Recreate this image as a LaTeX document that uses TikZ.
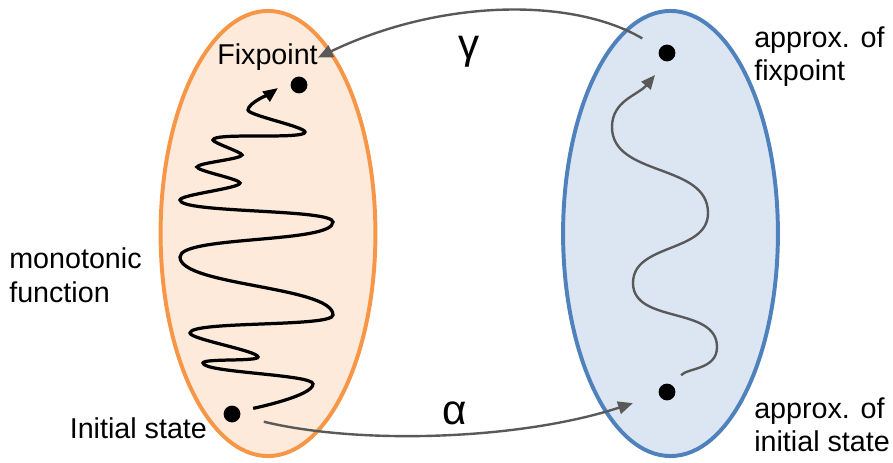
\documentclass[tikz,border=0pt]{standalone}
\usepackage{fontspec}
\setmainfont{Liberation Sans}
\usetikzlibrary{arrows.meta, positioning, shapes.geometric}
\definecolor{setorange}{RGB}{247,150,70}
\definecolor{lightorange}{RGB}{253,234,218}
\definecolor{setblue}{RGB}{79,129,189}
\definecolor{lightblue}{RGB}{220,230,242}
\definecolor{linkgray}{RGB}{89,89,89}

\begin{document}
\begin{tikzpicture}[
  x=0.025cm, y=0.025cm,
  setshape/.style={ellipse, line width=2.8pt, minimum width=5.37cm,
                   minimum height=11.125cm, inner sep=0pt},
  spot/.style={circle, fill=black, inner sep=0pt, minimum size=0.42cm},
  lbl/.style={inner sep=0pt, font=\fontsize{20.4}{23.8}\selectfont},
  greek/.style={inner sep=0pt, font=\fontsize{30}{36}\selectfont},
  zig/.style={out=90, in=-90, looseness=0.22},
  wiggle/.style={line width=2.3pt, -{Triangle[length=10.5pt, width=8.5pt]}},
  drift/.style={line width=1.7pt, color=linkgray, -{Triangle[length=10pt, width=8.5pt]}},
  link/.style={line width=1.7pt, color=linkgray, -{Triangle[length=10.5pt, width=9pt]}},
]
  \useasboundingbox (0,0) rectangle (893,462);

  % the two sets
  \node[setshape, draw=setorange, fill=lightorange] (concrete) at (268,228.5) {};
  \node[setshape, draw=setblue, fill=lightblue] (abstract) at (670.5,228.5) {};

  % points
  \node[spot] (fixL) at (299,377) {};
  \node[spot] (initL) at (232,48) {};
  \node[spot] (fixR) at (667,409) {};
  \node[spot] (initR) at (667,70) {};
  \coordinate (fixtipL) at (278,374);
  \coordinate (fixtipR) at (655,387);

  % labels
  \node[lbl, anchor=base west] (fixlabel) at (217,397) {Fixpoint};
  \node[lbl, anchor=base west] (initlabel) at (69.5,24) {Initial state};
  \node[lbl, anchor=north west, align=left] (monolabel) at (9,214.5) {monotonic\\function};
  \node[lbl, anchor=north west, align=left] (fixapprox) at (754,436) {approx. of\\fixpoint};
  \node[lbl, anchor=north west, align=left] (initapprox) at (754,65) {approx. of\\initial state};
  \node[greek] (gamma) at (469,410) {γ};
  \node[greek] (alpha) at (455,48.5) {α};

  % iteration of the monotonic function
  \draw[wiggle, shorten <=0.33cm] (initL) to[out=15, in=-90, looseness=0.4] (313,78)
    to[zig] (203,99) to[zig] (258,105) to[zig] (190,129) to[zig] (333,147)
    to[zig, looseness=0.45] (180,205) to[zig, looseness=0.35] (333,240) to[zig] (180,262) to[zig] (240,279)
    to[zig] (197,295) to[zig] (242,307) to[zig] (213,322) to[zig] (305,330)
    to[zig] (248,352) to[out=90, in=-144, looseness=0.5] (fixtipL);

  % abstract iteration
  \draw[drift, shorten <=0.33cm] (initR) to[out=50, in=-90] (717,115)
    to[out=90, in=-90] (633,179) to[out=90, in=-90] (708,249)
    to[out=90, in=-90] (612,335) to[out=90, in=-130] (fixtipR);

  % abstraction and concretisation
  \draw[link, shorten <=0.5cm] (fixR) .. controls (572,465) and (440,463) .. (fixlabel.east);
  \draw[link, shorten <=0.6cm, shorten >=0.68cm] (initL) .. controls (360,17) and (520,22) .. (initR);
\end{tikzpicture}
\end{document}
